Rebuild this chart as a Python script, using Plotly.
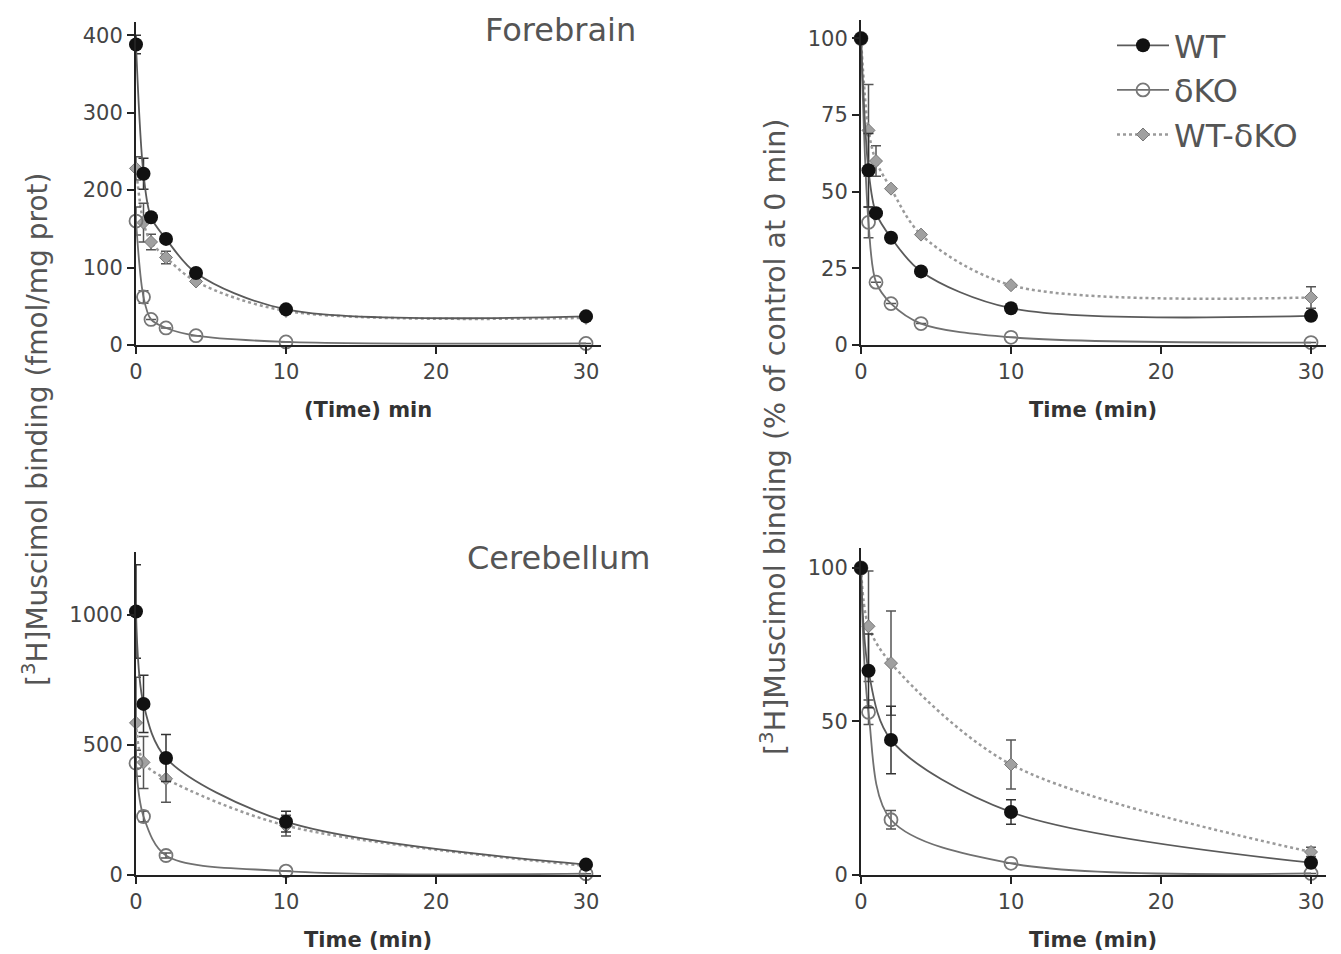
import plotly.graph_objects as go

# ---------------- data ----------------
fb_time = [0, 0.5, 1, 2, 4, 10, 30]
fb_wt = [388, 221, 165, 137, 93, 46, 37]
fb_wt_err = [12, 20, None, None, None, None, None]
fb_ko = [160, 62, 33, 22, 12, 4, 2]
fb_ko_err = [18, 8, None, None, None, None, None]
fb_diff = [228, 158, 133, 113, 82, 44, 35]
fb_diff_err = [15, 25, 10, 8, None, None, None]

fbp_wt = [100, 57, 43, 35, 24, 12, 9.5]
fbp_wt_err = [None, 12, None, None, None, None, None]
fbp_ko = [100, 40, 20.5, 13.5, 7, 2.5, 0.8]
fbp_ko_err = [None, 5, None, None, None, None, None]
fbp_diff = [100, 70, 60, 51, 36, 19.5, 15.5]
fbp_diff_err = [None, 15, 5, None, None, None, 3.5]

cb_time = [0, 0.5, 2, 10, 30]
cb_wt = [1013, 658, 450, 205, 40]
cb_wt_err = [180, 110, 90, 40, None]
cb_ko = [430, 225, 75, 15, 5]
cb_ko_err = [50, 20, 10, None, None]
cb_diff = [585, 433, 370, 190, 35]
cb_diff_err = [175, 100, 90, 40, None]

cbp_wt = [100, 66.5, 44, 20.5, 4]
cbp_wt_err = [None, 12, 11, 4, None]
cbp_ko = [100, 53, 18, 3.8, 0.5]
cbp_ko_err = [None, 4, 3, None, None]
cbp_diff = [100, 81, 69, 36, 7.5]
cbp_diff_err = [None, 18, 17, 8, 1.5]

x_ticks = [0, 10, 20, 30]
names = ["WT", "δKO", "WT-δKO"]

# ---------------- figure ----------------
W, H = 1341, 954
fig = go.Figure()

TICKFONT = dict(family="DejaVu Sans", size=21, color="#444")


def add_panel(xa, ya, t, wt, wte, ko, koe, df, dfe, legend=False):
    # WT-δKO (dotted, grey diamonds)
    fig.add_trace(go.Scatter(
        x=t, y=df, mode="lines+markers", name=names[2], legendrank=3,
        showlegend=legend, legendgroup="c",
        line=dict(color="#9a9a9a", width=2.5, dash="dot", shape="spline", smoothing=0.9),
        marker=dict(symbol="diamond", size=10, color="#a0a0a0", line=dict(color="#777", width=1)),
        error_y=dict(type="data", array=dfe, color="#555", thickness=1.5, width=5),
        cliponaxis=False, xaxis=xa, yaxis=ya))
    # δKO (open circles)
    fig.add_trace(go.Scatter(
        x=t, y=ko, mode="lines+markers", name=names[1], legendrank=2,
        showlegend=legend, legendgroup="b",
        line=dict(color="#707070", width=1.8, shape="spline", smoothing=0.9),
        marker=dict(symbol="circle-open", size=13, color="#777", line=dict(color="#777", width=1.8)),
        error_y=dict(type="data", array=koe, color="#555", thickness=1.5, width=5),
        cliponaxis=False, xaxis=xa, yaxis=ya))
    # WT (filled black)
    fig.add_trace(go.Scatter(
        x=t, y=wt, mode="lines+markers", name=names[0], legendrank=1,
        showlegend=legend, legendgroup="a",
        line=dict(color="#5a5a5a", width=1.8, shape="spline", smoothing=0.9),
        marker=dict(symbol="circle", size=14, color="#111"),
        error_y=dict(type="data", array=wte, color="#333", thickness=1.5, width=5),
        cliponaxis=False, xaxis=xa, yaxis=ya))


add_panel("x", "y", fb_time, fb_wt, fb_wt_err, fb_ko, fb_ko_err, fb_diff, fb_diff_err)
add_panel("x2", "y2", fb_time, fbp_wt, fbp_wt_err, fbp_ko, fbp_ko_err, fbp_diff, fbp_diff_err, legend=True)
add_panel("x3", "y3", cb_time, cb_wt, cb_wt_err, cb_ko, cb_ko_err, cb_diff, cb_diff_err)
add_panel("x4", "y4", cb_time, cbp_wt, cbp_wt_err, cbp_ko, cbp_ko_err, cbp_diff, cbp_diff_err)


def px_x(a, b):
    return [a / W, b / W]


def px_y(top, bottom):
    return [1 - bottom / H, 1 - top / H]


def xaxis(dom, anchor):
    return dict(domain=dom, anchor=anchor, range=[0, 31], tickvals=x_ticks,
                showline=True, linecolor="#222", linewidth=2, ticks="outside",
                ticklen=7, tickwidth=2, tickcolor="#222", showgrid=False,
                zeroline=False, tickfont=TICKFONT, fixedrange=True)


def yaxis(dom, anchor, rng, tv):
    return dict(domain=dom, anchor=anchor, range=rng, tickvals=tv,
                showline=True, linecolor="#222", linewidth=2, ticks="outside",
                ticklen=7, tickwidth=2, tickcolor="#222", showgrid=False,
                zeroline=False, tickfont=TICKFONT, fixedrange=True)


LX = px_x(136, 601)
RX = px_x(861, 1326)
fig.update_layout(
    width=W, height=H,
    margin=dict(l=0, r=0, t=0, b=0, autoexpand=False),
    paper_bgcolor="white", plot_bgcolor="white",
    font=dict(family="DejaVu Sans", color="#444"),
    xaxis=xaxis(LX, "y"),
    yaxis=yaxis(px_y(22, 345), "x", [0, 417], [0, 100, 200, 300, 400]),
    xaxis2=xaxis(RX, "y2"),
    yaxis2=yaxis(px_y(20, 345), "x2", [0, 106], [0, 25, 50, 75, 100]),
    xaxis3=xaxis(LX, "y3"),
    yaxis3=yaxis(px_y(552, 875), "x3", [0, 1242], [0, 500, 1000]),
    xaxis4=xaxis(RX, "y4"),
    yaxis4=yaxis(px_y(548, 875), "x4", [0, 106.5], [0, 50, 100]),
    legend=dict(x=1112 / W, y=1 - 18 / H, xanchor="left", yanchor="top",
                font=dict(family="DejaVu Sans", size=32, color="#555"),
                itemwidth=52, tracegroupgap=8, bgcolor="rgba(0,0,0,0)",
                traceorder="normal"),
)

ann = []


def add_text(x, y, text, size, bold=False, angle=0, color="#444", xanchor="center"):
    ann.append(dict(x=x / W, y=1 - y / H, xref="paper", yref="paper", text=text,
                    showarrow=False, textangle=angle, xanchor=xanchor, yanchor="middle",
                    font=dict(family="DejaVu Sans", size=size, color=color,
                              weight="bold" if bold else "normal")))


add_text(368, 410, "(Time) min", 21, bold=True, color="#333")
add_text(1093, 410, "Time (min)", 21, bold=True, color="#333")
add_text(368, 940, "Time (min)", 21, bold=True, color="#333")
add_text(1093, 940, "Time (min)", 21, bold=True, color="#333")
add_text(638, 30, "Forebrain", 32, color="#555", xanchor="right")
add_text(652, 558, "Cerebellum", 32, color="#555", xanchor="right")
add_text(35, 430, "[<sup>3</sup>H]Muscimol binding (fmol/mg prot)", 28, angle=-90, color="#555")
add_text(773, 437, "[<sup>3</sup>H]Muscimol binding (% of control at 0 min)", 28.5, angle=-90, color="#555")
fig.update_layout(annotations=ann)

fig.write_html(
    "out.html",
    config={"displayModeBar": False},
    post_script="document.body.style.margin='0';document.body.style.padding='0';"
                "document.body.style.overflow='hidden';",
)
